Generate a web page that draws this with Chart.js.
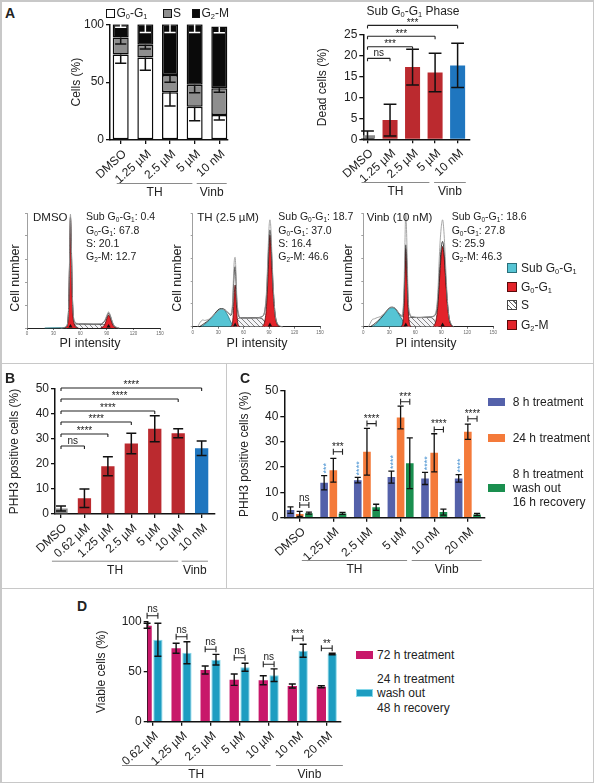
<!DOCTYPE html>
<html>
<head>
<meta charset="utf-8">
<title>Cell cycle, PHH3 and viability figure</title>
<script src="https://cdn.jsdelivr.net/npm/chart.js@4.4.1/dist/chart.umd.min.js"></script>
<style>
  html, body { margin:0; padding:0; background:#fff; }
  body { position:relative; width:594px; height:783px; overflow:hidden; font-family:"Liberation Sans", Arial, Helvetica, sans-serif; color:#222; }
  canvas { position:absolute; z-index:2; }
  .t { position:absolute; white-space:nowrap; font-size:12px; line-height:1; z-index:3; }
  .c { transform:translate(-50%,-50%); }
  .l { transform:translateY(-50%); }
  .r90 { transform:translate(-50%,-50%) rotate(-90deg); }
  .pl { font-weight:bold; font-size:14px; }
  sub { font-size:62%; vertical-align:-0.3em; line-height:0; }
  .ln { position:absolute; background:#c8c8c8; z-index:1; }
  .bx { position:absolute; box-sizing:border-box; z-index:3; }
</style>
</head>
<body>
<script>
// ---------------- DATA ----------------
// Panel A, cell cycle distribution (stacked)
const a1Labels = ['DMSO', '1.25 µM', '2.5 µM', '5 µM', '10 nM'];
const a1G1 = [74, 71.2, 41.2, 28.8, 21.6];
const a1S = [14.5, 11.2, 15.0, 19.0, 23.1];
const a1G2M = [11.5, 17.6, 43.8, 52.2, 53.3];
const a1G1Err = [7.7, 11.0, 11.8, 12.1, 4.3];
const a1SErr = [5.5, 3.7, 6.3, 6.9, 3.5];
const a1G2MErr = [2.6, 7.0, 7.0, 7.0, 5.2];
// Panel A, Sub G0-G1 phase
const a2Labels = ['DMSO', '1.25 µM', '2.5 µM', '5 µM', '10 nM'];
const a2Vals = [1.0, 4.6, 17.3, 16.0, 17.7];
const a2Err = [1.0, 3.8, 4.3, 4.6, 5.3];
const a2SigTo = [1, 2, 3, 4];
const a2SigY = [19.4, 22.2, 24.7, 27.3];
const a2SigText = ['ns', '***', '***', '***'];
const aGroups = [['TH', 1, 3], ['Vinb', 4, 4]];
// Panel A, histograms (PI intensity, relative cell number)
const histTitles = ['DMSO', 'TH (2.5 µM)', 'Vinb (10 nM)'];
const histStats = [[0.4, 67.8, 20.1, 12.7], [18.7, '37.0', 16.4, 46.6], [18.6, 27.8, 25.9, 46.3]];
const histTicks = [0, 30, 60, 90, 120, 150];
const h1Sub = [[20,0],[35,0.2],[42,0.3],[45,0]];
const h1G1 = [[42,0],[44.5,1],[46,5],[47,18],[48,55],[49,95.6],[50,70],[51,30],[52,10],[53.5,3],[55.5,0.5],[58,0]];
const h1S = [[47,0],[50,2.5],[55,3.4],[62,3.5],[70,3.3],[78,3.2],[85,3.0],[90,2.4],[95,1],[99,0]];
const h1G2M = [[83,0],[86,1.2],[88,3.5],[90,8],[92,11.3],[94,8.5],[96,4],[98,1.2],[101,0]];
const h1Fit = [[40,0],[44,1],[46,5.5],[47,19],[48,57],[49,96.5],[50,72],[51,33],[52,13],[54,5],[57,3.7],[65,3.5],[75,3.3],[83,3.4],[86,4.5],[88,6.5],[90,10],[92,13],[94,10.5],[96,5.5],[98,2.2],[101,0.5],[104,0]];
const h1Raw = [[38,0],[44,1.2],[46,6],[47,20],[48,60],[49,99],[50,74],[51,34],[52,14],[54,5.5],[57,4],[65,3.6],[75,3.4],[83,3.6],[86,5],[88,7],[90,11],[92,14],[94,11],[96,6],[98,2.5],[101,0.6],[104,0]];
const h1Marks = [[49,1.5],[92,1.5]];
const h2Sub = [[10,0],[14,2],[20,6],[26,11],[30,14.5],[34,15.6],[38,14],[42,9],[45,4],[48,1],[51,0]];
const h2G1 = [[45,0],[47,4],[48,14],[49,30],[50,36.7],[51,28],[52,12],[53,4],[55,0]];
const h2S = [[48,0],[52,6],[56,7.6],[65,7.4],[75,7.6],[82,7],[86,3],[89,0]];
const h2G2M = [[82,0],[85,5],[87,18],[89,50],[90,70],[91,80.5],[92,74],[93,58],[95,28],[97,10],[99,3],[102,0]];
const h2Fit = [[8,0],[12,2],[20,6.5],[26,11.5],[30,15],[34,16],[38,15],[42,12],[45,10],[47,18],[48,34],[49,48],[50,52.8],[51,40],[52,22],[54,10],[56,8],[65,7.8],[75,8],[82,9],[85,14],[87,28],[89,62],[90,78],[91,85],[92,80],[93,64],[95,32],[97,12],[99,4],[102,0.5],[106,0]];
const h2Raw = [[6,0],[8,3],[10,5],[12,6],[14,5.5],[17,6],[20,7],[26,11],[30,14],[34,15.5],[38,14.5],[42,12],[45,11],[47,22],[48,42],[49,58],[50,61],[51,48],[52,26],[54,12],[56,8],[65,7.5],[75,7.8],[82,9],[85,15],[87,32],[89,70],[90,88],[91,94],[92,88],[93,70],[95,34],[97,12],[99,4],[102,1],[106,0]];
const h2Marks = [[50,1.5],[91,1.5]];
const h3Sub = [[10,0],[14,2],[20,7],[26,12.5],[30,16],[33,16.7],[37,15.5],[41,11],[45,6],[48,2.5],[51,0.5],[53,0]];
const h3G1 = [[44,0],[46,6],[47,20],[48,48],[49,68.6],[50,56],[51,30],[52,12],[53,4],[55,0]];
const h3S = [[48,0],[52,7],[56,8.2],[65,8],[75,8.2],[80,7.5],[84,3],[87,0]];
const h3G2M = [[81,0],[84,6],[86,18],[88,42],[90,64],[91.5,70.6],[93,64],[95,42],[97,20],[99,7],[101,2],[103,0]];
const h3Fit = [[8,0],[12,2],[20,7.5],[26,13],[30,16.5],[33,17.2],[37,16],[41,12],[45,9],[47,26],[48,52],[49,72],[50,62],[51,38],[52,18],[54,10],[56,8.5],[65,8.2],[75,8.5],[80,9],[84,12],[86,24],[88,50],[90,70],[91.5,75],[93,68],[95,45],[97,22],[99,8],[101,2.5],[104,0]];
const h3Raw = [[6,0],[8,3],[10,6],[13,7],[16,8],[20,9],[26,13],[30,16],[33,17],[37,16],[41,12],[45,10],[47,35],[48,72],[49,100],[50,82],[51,48],[52,22],[54,11],[56,9],[65,8],[75,8.5],[80,9],[84,14],[86,30],[88,66],[90,88],[91.5,94],[93,84],[95,54],[97,24],[99,8],[101,3],[104,0]];
const h3Marks = [[49,1.5],[91.5,1.5]];
// Panel B
const bLabels = ['DMSO', '0.62 µM', '1.25 µM', '2.5 µM', '5 µM', '10 µM', '10 nM'];
const bVals = [2.2, 6.3, 19.1, 28.2, 34.1, 32.3, 26.3];
const bErr = [1.0, 3.7, 3.8, 4.1, 5.2, 1.8, 2.9];
const bSigTo = [1, 2, 3, 4, 5, 6];
const bSigY = [27.2, 32.0, 36.8, 41.2, 46.0, 50.4];
const bSigText = ['ns', '****', '****', '****', '****', '****'];
const bGroups = [['TH', 1, 5], ['Vinb', 6, 6]];
// Panel C
const cLabels = ['DMSO', '1.25 µM', '2.5 µM', '5 µM', '10 nM', '20 nM'];
const c8h = [3.0, 13.8, 14.8, 16.0, 15.5, 15.5];
const c8hErr = [1.3, 2.8, 1.1, 2.4, 2.4, 1.5];
const c24h = [1.5, 18.7, 26.0, 39.5, 25.6, 33.9];
const c24hErr = [1.0, 4.7, 9.2, 4.5, 7.5, 3.0];
const cWash = [1.8, 1.7, 4.1, 21.5, 2.2, 1.3];
const cWashErr = [0.4, 0.4, 1.2, 10.0, 1.2, 0.4];
const cSigY = [5.0, 26.0, 37.1, 45.7, 34.8, 39.0];
const cSigText = ['ns', '***', '****', '***', '****', '****'];
const c8hStars = ['', '***', '****', '****', '****', '****'];
const cGroups = [['TH', 1, 3], ['Vinb', 4, 5]];
// Panel D
const dLabels = ['0.62 µM', '1.25 µM', '2.5 µM', '5 µM', '10 µM', '10 nM', '20 nM'];
const d72 = [96, 73.5, 51.7, 42, 41.5, 35.7, 35];
const d72Err = [2.5, 5, 4, 5.7, 4.5, 2, 1];
const dWash = [82, 69, 62, 54.5, 46.5, 71, 67.7];
const dWashErr = [16.5, 11, 5.3, 4, 6.3, 6.5, 0.8];
const dSigY = [106, 85, 72.4, 64, 57.4, 83.4, 73.4];
const dSigText = ['ns', 'ns', 'ns', 'ns', 'ns', '***', '**'];
const dGroups = [['TH', 0, 4], ['Vinb', 5, 6]];

// ---------------- HELPERS ----------------
const FONT = '"Liberation Sans", Arial, Helvetica, sans-serif';
Chart.defaults.font.family = FONT;
Chart.defaults.font.size = 12;
Chart.defaults.color = '#222';
const G01 = 'G<sub>0</sub>-G<sub>1</sub>';
const G2M = 'G<sub>2</sub>-M';

function txt(x, y, html, cls, size, extra) {
  const d = document.createElement('div');
  d.className = 't ' + (cls || 'c');
  d.style.left = x + 'px'; d.style.top = y + 'px';
  if (size) d.style.fontSize = size + 'px';
  if (extra) Object.assign(d.style, extra);
  d.innerHTML = html;
  document.body.appendChild(d);
}
function rect(cls, x, y, w, h, st) {
  const d = document.createElement('div');
  d.className = cls;
  Object.assign(d.style, { left: x + 'px', top: y + 'px', width: w + 'px', height: h + 'px' }, st || {});
  document.body.appendChild(d);
}
function mkCanvas(x, y, w, h) {
  const c = document.createElement('canvas');
  c.width = w; c.height = h;
  Object.assign(c.style, { left: x + 'px', top: y + 'px', width: w + 'px', height: h + 'px' });
  document.body.appendChild(c);
  return c;
}
const pts = arr => arr.map((v, i) => ({ x: i, y: v }));

const errPlugin = {
  id: 'errbars',
  afterDatasetsDraw(chart) {
    const { ctx } = chart; const ys = chart.scales.y;
    chart.data.datasets.forEach((ds, di) => {
      if (!ds.err) return;
      const meta = chart.getDatasetMeta(di);
      meta.data.forEach((bar, i) => {
        const e = ds.err[i];
        if (e == null) return;
        const topVal = ys.getValueForPixel(bar.y);
        const yHi = ys.getPixelForValue(topVal + e), yLo = ys.getPixelForValue(topVal - e);
        const w = bar.width * (ds.capRatio || 0.7) / 2;
        ctx.save();
        ctx.strokeStyle = ds.errColor || '#111'; ctx.lineWidth = ds.errWidth || 1.5;
        ctx.beginPath();
        ctx.moveTo(bar.x, ds.errDown ? bar.y : yHi); ctx.lineTo(bar.x, yLo);
        if (!ds.errDown) { ctx.moveTo(bar.x - w, yHi); ctx.lineTo(bar.x + w, yHi); }
        ctx.moveTo(bar.x - w, yLo); ctx.lineTo(bar.x + w, yLo);
        ctx.stroke();
        ctx.restore();
      });
    });
  }
};
function sigPlugin(s) {
  return { id: 'sig', afterDatasetsDraw(chart) {
    const { ctx } = chart; const ys = chart.scales.y;
    ctx.save();
    ctx.strokeStyle = '#222'; ctx.fillStyle = '#222'; ctx.lineWidth = 1.1;
    ctx.textAlign = 'center'; ctx.textBaseline = 'alphabetic'; ctx.font = s.font;
    s.items.forEach(it => {
      const x1 = chart.getDatasetMeta(it[0]).data[it[1]].x;
      const x2 = chart.getDatasetMeta(it[2]).data[it[3]].x;
      const y = ys.getPixelForValue(it[4]);
      ctx.beginPath(); ctx.moveTo(x1, y); ctx.lineTo(x2, y);
      [x1, x2].forEach(x => {
        if (s.style === 'I') { ctx.moveTo(x, y - s.tick); ctx.lineTo(x, y + s.tick); }
        else { ctx.moveTo(x, y); ctx.lineTo(x, y + s.tick); }
      });
      ctx.stroke();
      const star = it[5].indexOf('*') >= 0;
      ctx.fillText(it[5], (x1 + x2) / 2, y - (star ? s.gapStar : s.gapText));
    });
    ctx.restore();
  }};
}
function groupPlugin(g) {
  return { id: 'grp', afterDraw(chart) {
    const { ctx } = chart; const xs = chart.scales.x; const y = chart.chartArea.bottom + g.dy;
    ctx.save();
    ctx.strokeStyle = '#8a8a8a'; ctx.lineWidth = 1; ctx.fillStyle = '#222';
    ctx.font = '12px ' + FONT; ctx.textAlign = 'center'; ctx.textBaseline = 'middle';
    g.items.forEach((it, k) => {
      const x1 = xs.getPixelForValue(it[1]) - g.pads[k][0];
      const x2 = xs.getPixelForValue(it[2]) + g.pads[k][1];
      ctx.beginPath(); ctx.moveTo(x1, y + 0.5); ctx.lineTo(x2, y + 0.5); ctx.stroke();
      ctx.fillText(it[0], (x1 + x2) / 2, y + 9.5);
    });
    ctx.restore();
  }};
}
function vstarPlugin(v) {
  return { id: 'vstar', afterDatasetsDraw(chart) {
    const { ctx } = chart; const ys = chart.scales.y;
    const ds = chart.data.datasets[v.ds]; const meta = chart.getDatasetMeta(v.ds);
    ctx.save(); ctx.fillStyle = v.color; ctx.font = v.font; ctx.textAlign = 'left'; ctx.textBaseline = 'alphabetic';
    meta.data.forEach((bar, i) => {
      const t = v.texts[i]; if (!t) return;
      const top = ys.getPixelForValue(ys.getValueForPixel(bar.y) + ds.err[i]) - 2;
      ctx.save(); ctx.translate(bar.x + 4.5, top); ctx.rotate(-Math.PI / 2); ctx.fillText(t, 0, 0); ctx.restore();
    });
    ctx.restore();
  }};
}

function barChart(o) {
  const [cx, cy, cw, ch] = o.canvas; const A = o.area;
  const cv = mkCanvas(cx, cy, cw, ch);
  const lh = 12 * 1.2;
  const sLeft = o.yTitleX - lh / 2;
  const yW = A.l - sLeft, xH = o.xH;
  const plugins = [errPlugin];
  if (o.sig) plugins.push(sigPlugin(o.sig));
  if (o.groups) plugins.push(groupPlugin(o.groups));
  if (o.vstars) plugins.push(vstarPlugin(o.vstars));
  return new Chart(cv, {
    type: 'bar',
    data: { datasets: o.datasets },
    options: {
      responsive: false, maintainAspectRatio: false, animation: false, devicePixelRatio: 1,
      layout: { padding: { left: sLeft - cx, top: A.t - cy, right: cx + cw - A.r, bottom: cy + ch - A.b - xH } },
      plugins: { legend: { display: false }, tooltip: { enabled: false } },
      scales: {
        x: {
          type: 'linear', min: o.xmin, max: o.xmax, offset: false, bounds: 'data', stacked: !!o.stacked,
          afterBuildTicks: s => { s.ticks = o.labels.map((_, i) => ({ value: i })); },
          afterFit: s => { s.height = xH; },
          ticks: { autoSkip: false, minRotation: o.rot || 42, maxRotation: o.rot || 42, padding: 3, labelOffset: o.labelOffset || 0,
                   color: '#222', font: { size: 12 }, callback: v => o.labels[v] },
          grid: { display: true, drawOnChartArea: false, drawTicks: true, tickLength: 4, color: '#111', lineWidth: 1.3, offset: false },
          border: { display: true, color: '#111', width: 1.5 }
        },
        y: {
          min: 0, max: o.ymax, stacked: !!o.stacked,
          afterFit: s => { s.width = yW; },
          ticks: { stepSize: o.ystep, padding: 2, color: '#222', font: { size: 12 } },
          grid: { display: true, drawOnChartArea: false, drawTicks: true, tickLength: 4, color: '#111', lineWidth: 1.3 },
          border: { display: true, color: '#111', width: 1.5 },
          title: { display: true, text: o.yTitle, padding: 0, font: { size: 12 }, color: '#222' }
        }
      }
    },
    plugins
  });
}

function histChart(o) {
  const [cx, cy, cw, ch] = o.canvas; const A = o.area;
  const cv = mkCanvas(cx, cy, cw, ch);
  const ctx = cv.getContext('2d');
  const src = document.createElement('canvas'); src.width = 5; src.height = 5;
  const g = src.getContext('2d');
  g.fillStyle = '#f3f3f6'; g.fillRect(0, 0, 5, 5);
  g.strokeStyle = '#6a6a6a'; g.lineWidth = 0.8;
  g.beginPath(); g.moveTo(0, 0); g.lineTo(5, 5); g.stroke();
  const pat = ctx.createPattern(src, 'repeat');
  const xH = 8;
  const ln = (data, extra) => Object.assign({ data, pointRadius: 0, borderWidth: 0.8, cubicInterpolationMode: 'monotone', fill: false, clip: false }, extra);
  return new Chart(cv, {
    type: 'line',
    data: { datasets: [
      ln(o.raw, { borderColor: '#9c9c9c', borderWidth: 0.9, order: 0 }),
      ln(o.fit, { borderColor: '#151515', borderWidth: 0.8, order: 1 }),
      ln(o.g2m, { fill: 'origin', backgroundColor: '#e3232a', borderColor: '#4a0b0b', order: 2 }),
      ln(o.g1, { fill: 'origin', backgroundColor: '#e3232a', borderColor: '#4a0b0b', order: 3 }),
      ln(o.s, { fill: 'origin', backgroundColor: pat, borderColor: '#555', order: 4 }),
      ln(o.sub, { fill: 'origin', backgroundColor: '#56c4d4', borderColor: '#1e6e7a', order: 5 }),
      { type: 'scatter', data: o.marks, pointStyle: 'triangle', pointRadius: 2.4, backgroundColor: '#111', borderWidth: 0, order: -1, clip: false }
    ]},
    options: {
      responsive: false, maintainAspectRatio: false, animation: false, devicePixelRatio: 1,
      layout: { padding: { left: 0, top: A.t - cy, right: cx + cw - A.r, bottom: cy + ch - A.b - xH } },
      plugins: { legend: { display: false }, tooltip: { enabled: false } },
      scales: {
        x: { type: 'linear', min: 0, max: 150, bounds: 'data',
             afterBuildTicks: s => { s.ticks = histTicks.map(v => ({ value: v })); },
             afterFit: s => { s.height = xH; },
             ticks: { padding: 1, color: '#666', font: { size: 4.5 }, maxRotation: 0 },
             grid: { drawOnChartArea: false, drawTicks: true, tickLength: 2, color: '#333', lineWidth: 0.7 },
             border: { display: true, color: '#222', width: 1 } },
        y: { min: 0, max: 100,
             afterFit: s => { s.width = A.l - cx; },
             ticks: { display: false, stepSize: 20 },
             grid: { drawOnChartArea: false, drawTicks: true, tickLength: 2, color: '#777', lineWidth: 0.7 },
             border: { display: true, color: '#888', width: 0.8, dash: [1.5, 1.5] } }
      }
    }
  });
}

// ---------------- FRAMES ----------------
rect('ln', 0, 0, 594, 1.5); rect('ln', 0, 0, 1.5, 783); rect('ln', 592.5, 0, 1.5, 783); rect('ln', 0, 781.5, 594, 1.5);
rect('ln', 0, 362.5, 594, 1.5); rect('ln', 0, 587.5, 594, 1.5); rect('ln', 225.5, 363, 1.5, 225);

// ---------------- PANEL A ----------------
txt(10, 13, 'A', 'c pl');
rect('bx', 106, 9, 8.5, 8.5, { border: '1.5px solid #111', background: '#fff' });
txt(116.5, 13, G01, 'l');
rect('bx', 163, 9, 8.5, 8.5, { border: '1.5px solid #111', background: '#8e8e8e' });
txt(173, 13, 'S', 'l');
rect('bx', 191.5, 9, 8.5, 8.5, { border: '1.5px solid #111', background: '#0a0a0a' });
txt(201.5, 13, G2M, 'l');

barChart({
  canvas: [60, 5, 190, 197], area: { l: 110, t: 24.3, r: 228, b: 140 }, yTitleX: 77, xH: 50,
  labels: a1Labels, xmin: -0.434, xmax: 4.353, ymax: 100, ystep: 50, yTitle: 'Cells (%)', stacked: true, labelOffset: 4,
  datasets: [
    { data: pts(a1G1), backgroundColor: '#ffffff', borderColor: '#0a0a0a', borderWidth: 1.5, borderSkipped: false,
      barPercentage: 0.65, categoryPercentage: 1, err: a1G1Err, errDown: true, capRatio: 0.7 },
    { data: pts(a1S), backgroundColor: '#8e8e8e', borderColor: '#0a0a0a', borderWidth: 1.5, borderSkipped: false,
      barPercentage: 0.65, categoryPercentage: 1, err: a1SErr, errDown: true, capRatio: 0.7 },
    { data: pts(a1G2M), backgroundColor: '#0a0a0a', borderColor: '#0a0a0a', borderWidth: 1.5, borderSkipped: false,
      barPercentage: 0.65, categoryPercentage: 1, err: a1G2MErr, errDown: true, errColor: '#ffffff', capRatio: 0.7 }
  ],
  groups: { items: aGroups, pads: [[28.6, -2.3], [22.6, 7.4]], dy: 43 }
});

txt(413, 10.5, 'Sub ' + G01 + ' Phase');
barChart({
  canvas: [305, 15, 185, 187], area: { l: 363.3, t: 35, r: 470, b: 139.3 }, yTitleX: 322.7, xH: 50,
  labels: a2Labels, xmin: -0.187, xmax: 4.55, ymax: 25, ystep: 5, yTitle: 'Dead cells (%)', labelOffset: 4,
  datasets: [
    { data: pts(a2Vals), backgroundColor: ['#8a8a8a', '#bb2a2f', '#bb2a2f', '#bb2a2f', '#1f76bf'], borderWidth: 0,
      barPercentage: 0.667, categoryPercentage: 1, err: a2Err, capRatio: 0.85 }
  ],
  sig: { items: a2SigTo.map((t, k) => [0, 0, 0, t, a2SigY[k], a2SigText[k]]), style: 'down', tick: 3, font: '10px ' + FONT, gapStar: -0.5, gapText: 2 },
  groups: { items: aGroups, pads: [[28.5, -5.7], [23.5, 8.2]], dy: 42.7 }
});

// histograms
histChart({ canvas: [10, 205, 160, 135], area: { l: 27, t: 213, r: 160, b: 328 },
  sub: h1Sub, g1: h1G1, s: h1S, g2m: h1G2M, fit: h1Fit, raw: h1Raw, marks: h1Marks });
histChart({ canvas: [178, 205, 152, 135], area: { l: 192.7, t: 213, r: 320, b: 326.7 },
  sub: h2Sub, g1: h2G1, s: h2S, g2m: h2G2M, fit: h2Fit, raw: h2Raw, marks: h2Marks });
histChart({ canvas: [349, 205, 154, 135], area: { l: 363.3, t: 213, r: 493.3, b: 326.7 },
  sub: h3Sub, g1: h3G1, s: h3S, g2m: h3G2M, fit: h3Fit, raw: h3Raw, marks: h3Marks });

const histTitleX = [33, 197.3, 366.7];
const histStatX = [86, 278.3, 451.7];
const histCellX = [15, 177, 348.3];
const histPIX = [90, 257, 426];
const statLineY = [216, 229.5, 243, 256];
for (let k = 0; k < 3; k++) {
  txt(histTitleX[k], 217.5, histTitles[k], 'l', 11.5);
  const st = histStats[k];
  txt(histStatX[k], statLineY[0], 'Sub ' + G01 + ': ' + st[0], 'l', 10.5);
  txt(histStatX[k], statLineY[1], G01 + ': ' + st[1], 'l', 10.5);
  txt(histStatX[k], statLineY[2], 'S: ' + st[2], 'l', 10.5);
  txt(histStatX[k], statLineY[3], G2M + ': ' + st[3], 'l', 10.5);
  txt(histCellX[k], 278, 'Cell number', 't r90', 12.5);
  txt(histPIX[k], 343, 'PI intensity', 'c', 12.5);
}
// histogram legend
const hLegY = [268.3, 286.7, 305, 325];
rect('bx', 507, hLegY[0] - 5, 10, 10, { border: '1px solid #2a6f7a', background: '#56c4d4' });
rect('bx', 507, hLegY[1] - 5, 10, 10, { border: '1px solid #5a0a0a', background: '#e3232a' });
rect('bx', 507, hLegY[2] - 5, 10, 10, { border: '1px solid #444', background: 'repeating-linear-gradient(45deg,#fff 0 2.5px,#666 2.5px 3.3px)' });
rect('bx', 507, hLegY[3] - 5, 10, 10, { border: '1px solid #5a0a0a', background: '#e3232a' });
txt(521, hLegY[0], 'Sub ' + G01, 'l');
txt(521, hLegY[1], G01, 'l');
txt(521, hLegY[2], 'S', 'l');
txt(521, hLegY[3], G2M, 'l');

// ---------------- PANEL B ----------------
txt(10, 378, 'B', 'c pl');
barChart({
  canvas: [2, 366, 222, 220], area: { l: 55, t: 389, r: 215, b: 514 }, yTitleX: 15, xH: 60,
  labels: bLabels, xmin: -0.256, xmax: 6.57, ymax: 50, ystep: 10, yTitle: 'PHH3 positive cells (%)', labelOffset: 4,
  datasets: [
    { data: pts(bVals), backgroundColor: ['#8a8a8a', '#bb2a2f', '#bb2a2f', '#bb2a2f', '#bb2a2f', '#bb2a2f', '#1f76bf'], borderWidth: 0,
      barPercentage: 0.567, categoryPercentage: 1, err: bErr, capRatio: 0.75 }
  ],
  sig: { items: bSigTo.map((t, k) => [0, 0, 0, t, bSigY[k], bSigText[k]]), style: 'down', tick: 3, font: '10px ' + FONT, gapStar: 0.5, gapText: 2.5 },
  groups: { items: bGroups, pads: [[32.5, 0], [20, 6.3]], dy: 46.7 }
});

// ---------------- PANEL C ----------------
txt(245, 378, 'C', 'c pl');
barChart({
  canvas: [230, 366, 262, 220], area: { l: 284.3, t: 390.9, r: 485, b: 517.7 }, yTitleX: 245, xH: 55,
  labels: cLabels, xmin: -0.458, xmax: 5.51, ymax: 50, ystep: 10, yTitle: 'PHH3 positive cells (%)', labelOffset: 4,
  datasets: [
    { data: pts(c8h), backgroundColor: '#5461aa', borderWidth: 0, categoryPercentage: 0.82, barPercentage: 0.83, err: c8hErr, capRatio: 0.8, errWidth: 1.3 },
    { data: pts(c24h), backgroundColor: '#f47a3a', borderWidth: 0, categoryPercentage: 0.82, barPercentage: 0.83, err: c24hErr, capRatio: 0.8, errWidth: 1.3 },
    { data: pts(cWash), backgroundColor: '#1a8f4f', borderWidth: 0, categoryPercentage: 0.82, barPercentage: 0.83, err: cWashErr, capRatio: 0.8, errWidth: 1.3 }
  ],
  sig: { items: cSigY.map((y, k) => [1, k, 2, k, y, cSigText[k]]), style: 'I', tick: 3, font: '10px ' + FONT, gapStar: 2, gapText: 4.5 },
  vstars: { ds: 0, texts: c8hStars, color: '#4a93d2', font: '9px ' + FONT },
  groups: { items: cGroups, pads: [[31.5, 6.5], [22.5, 13.9]], dy: 42.3 }
});
// legend C
rect('bx', 488, 398, 17, 7.5, { background: '#5461aa' });
txt(512.7, 401.7, '8 h treatment', 'l');
rect('bx', 488, 434, 17, 7.5, { background: '#f47a3a' });
txt(512.7, 437.7, '24 h treatment', 'l');
rect('bx', 488, 484, 17, 7.5, { background: '#1a8f4f' });
txt(512.7, 474, '8 h treatment', 'l');
txt(512.7, 487.7, 'wash out', 'l');
txt(512.7, 501.7, '16 h recovery', 'l');

// ---------------- PANEL D ----------------
txt(82, 606, 'D', 'c pl');
barChart({
  canvas: [88, 596, 262, 186], area: { l: 147.7, t: 621.7, r: 341, b: 721.7 }, yTitleX: 102, xH: 50,
  labels: dLabels, xmin: -0.165, xmax: 6.49, ymax: 100, ystep: 50, yTitle: 'Viable cells (%)', labelOffset: 4,
  datasets: [
    { data: pts(d72), backgroundColor: '#c8186a', borderWidth: 0, categoryPercentage: 0.745, barPercentage: 0.86, err: d72Err, capRatio: 0.75, errWidth: 1.4 },
    { data: pts(dWash), backgroundColor: '#1d9dc1', borderColor: '#86d8ea', borderWidth: 1, borderSkipped: 'start', categoryPercentage: 0.745, barPercentage: 0.86, err: dWashErr, capRatio: 0.75, errWidth: 1.4 }
  ],
  sig: { items: dSigY.map((y, k) => [0, k, 1, k, y, dSigText[k]]), style: 'I', tick: 3, font: '10px ' + FONT, gapStar: 1.5, gapText: 4 },
  groups: { items: dGroups, pads: [[30.5, 1.9], [21.7, 16.1]], dy: 43.3 }
});
// legend D
rect('bx', 356, 651, 17, 8, { background: '#c8186a' });
txt(377, 655, '72 h treatment', 'l');
rect('bx', 356, 689.3, 17, 8, { background: '#1d9dc1', border: '1px solid #86d8ea' });
txt(377, 679.3, '24 h treatment', 'l');
txt(377, 693.3, 'wash out', 'l');
txt(377, 707.7, '48 h recovery', 'l');
</script>
</body>
</html>
